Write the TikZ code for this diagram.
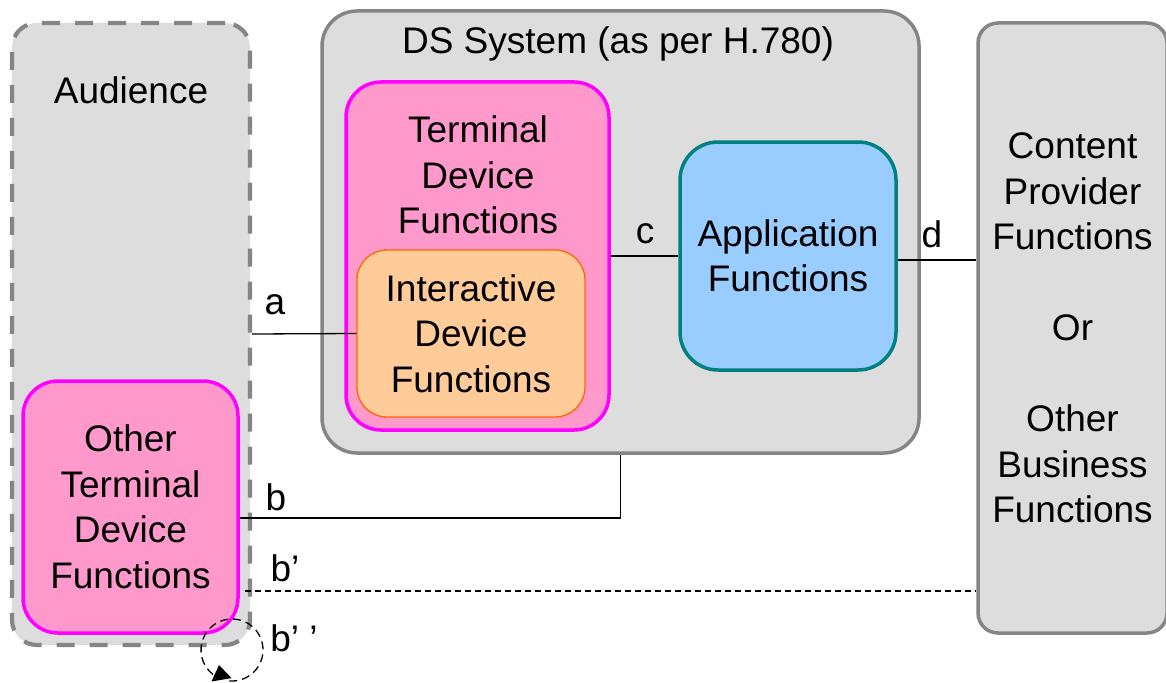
\documentclass[tikz,border=0pt]{standalone}
\usepackage{fontspec}
\setmainfont{Liberation Sans}
\usetikzlibrary{arrows.meta}
\definecolor{boxgray}{HTML}{DDDDDD}
\definecolor{edgegray}{HTML}{858585}
\definecolor{pinkfill}{HTML}{FF99CC}
\definecolor{magentaedge}{HTML}{FF00FF}
\definecolor{orangefill}{HTML}{FFCC99}
\definecolor{orangeedge}{HTML}{FF6600}
\definecolor{bluefill}{HTML}{99CCFF}
\definecolor{tealedge}{HTML}{008080}
\tikzset{
  txt/.style={font=\fontsize{37}{45.5}\selectfont, align=center, inner sep=0pt},
  boxbase/.style={rectangle, inner sep=0pt, txt},
  graybox/.style={boxbase, fill=boxgray, draw=edgegray, line width=3.5pt},
  pinkbox/.style={boxbase, fill=pinkfill, draw=magentaedge, line width=3.5pt, rounded corners=35pt},
  orangebox/.style={boxbase, fill=orangefill, draw=orangeedge, line width=1.3pt, rounded corners=30pt},
  bluebox/.style={boxbase, fill=bluefill, draw=tealedge, line width=3.5pt, rounded corners=38pt},
  conn/.style={line width=1.3pt},
  lbl/.style={txt}
}
\begin{document}
\begin{tikzpicture}[x=1pt,y=-1pt]
\useasboundingbox (0,0) rectangle (1166,682);
% Audience
\node[graybox, line width=4.2pt, dash pattern=on 18pt off 15pt, rounded corners=25pt, minimum width=238pt, minimum height=622pt] (aud) at (131,334) {};
\node[txt] (audt) at (131,90) {Audience};
\node[pinkbox, minimum width=215pt, minimum height=252pt] (otdf) at (130.5,507) {Other\\Terminal\\Device\\Functions};
% DS System
\node[graybox, rounded corners=35pt, minimum width=597pt, minimum height=442pt] (ds) at (620.5,232) {};
\node[txt] (dst) at (618,44) {DS System (as per H.780)};
\node[pinkbox, minimum width=263pt, minimum height=348pt] (tdf) at (477.5,256) {};
\node[txt] (tdft) at (478,175) {Terminal\\Device\\Functions};
\node[orangebox, minimum width=228pt, minimum height=167pt] (idf) at (471,333.5) {Interactive\\Device\\Functions};
\node[bluebox, minimum width=216pt, minimum height=228pt] (app) at (788,256) {Application\\Functions};
% Right box
\node[graybox, rounded corners=20pt, minimum width=189pt, minimum height=610pt] (cp) at (1072.5,328) {Content\\Provider\\Functions\\[45.5pt]Or\\[45.5pt]Other\\Business\\Functions};
% connectors
\draw[conn] (aud.east) -- (idf.west);
\draw[conn] (tdf.east) -- (app.west);
\draw[conn] (app.east) ++(0,4) -- (cp.west |- 0,260);
\draw[conn] ([yshift=-11pt]otdf.east) -| (ds.south);
\coordinate (bp) at (245,591);
\draw[conn, dash pattern=on 6pt off 4pt] (bp) -- (bp -| cp.west);
\coordinate (loopc) at (232,650);
\coordinate (looptip) at (219,665);
\draw[conn, dash pattern=on 8pt off 5pt, -{Triangle[length=15pt,width=20pt]}] (loopc) ++(95:31) arc[start angle=95, end angle=-250, radius=31] -- (looptip);
% labels
\node[lbl] (la) at (275,305) {a};
\node[lbl] (lb) at (276,497) {b};
\node[lbl] (lbp) at (285,568) {b’};
\node[lbl] (lbpp) at (294,638) {b’ ’};
\node[lbl] (lc) at (645,234) {c};
\node[lbl] (ld) at (932,234) {d};
\end{tikzpicture}
\end{document}
